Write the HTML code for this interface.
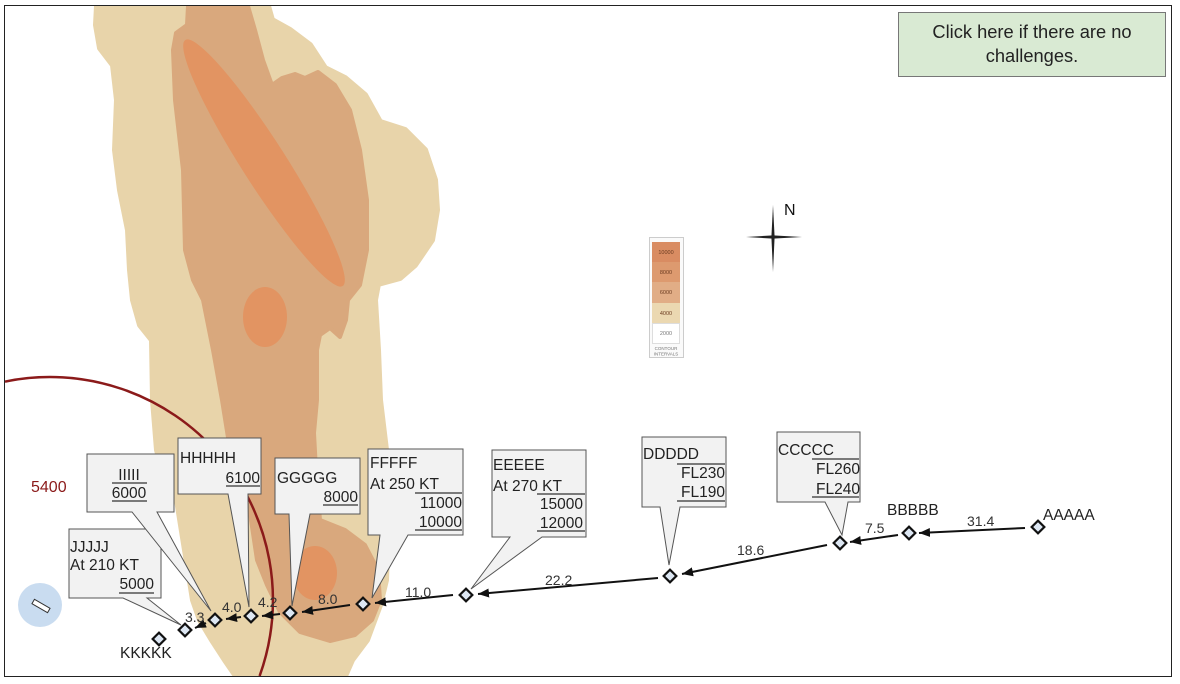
<!DOCTYPE html>
<html><head><meta charset="utf-8"><style>
html,body{margin:0;padding:0;background:#fff;width:1180px;height:684px;overflow:hidden;}
svg{display:block;}
text{font-family:"Liberation Sans",Arial,sans-serif;}
</style></head><body>
<svg width="1180" height="684" viewBox="0 0 1180 684" xmlns="http://www.w3.org/2000/svg">
<defs>
<clipPath id="fr"><rect x="5" y="6" width="1166" height="670"/></clipPath>
<marker id="ah" markerUnits="userSpaceOnUse" markerWidth="12" markerHeight="10" refX="11" refY="4.5" orient="auto"><path d="M0,0 L11,4.5 L0,9 Z" fill="#111"/></marker>
</defs>
<rect x="0" y="0" width="1180" height="684" fill="#fff"/>
<g clip-path="url(#fr)">
<polygon fill="#e8d4aa" stroke="#e8d4aa" stroke-width="6" stroke-linejoin="round" points="97,6 268,6 272,20 290,30 310,45 325,68 345,78 365,95 380,122 405,130 425,150 435,180 437,210 432,240 415,265 400,278 378,284 375,300 378,350 380,400 386,450 388,520 386,580 380,605 367,640 352,660 345,676 236,676 225,660 212,640 200,620 193,600 185,550 177,500 165,480 157,450 153,400 152,340 140,325 133,300 130,270 128,230 120,190 115,150 117,100 113,65 100,48 96,25"/>
<polygon fill="#d9a87d" stroke="#d9a87d" stroke-width="4" stroke-linejoin="round" points="188,6 248,6 255,30 263,60 272,85 282,78 295,74 305,78 318,72 335,85 350,110 360,150 367,200 367,250 360,285 348,300 346,320 340,337 330,328 320,335 317,350 317,400 314,433 316,470 320,520 345,530 365,545 378,570 380,600 372,620 355,635 330,641 300,632 280,612 267,585 257,560 248,500 238,475 230,450 222,400 213,350 203,300 193,280 185,250 183,170 175,100 173,50 176,33 187,25"/>
<ellipse cx="264" cy="163" rx="146" ry="22" transform="rotate(57.4 264 163)" fill="#e29462"/>
<ellipse cx="265" cy="317" rx="22" ry="30" fill="#e29462"/>
<ellipse cx="315" cy="573" rx="22" ry="27" fill="#e29462"/>
<path d="M5,381.6 A223,223 0 0 1 259.6,676" fill="none" stroke="#8b1a1a" stroke-width="2.5"/>
</g>
<rect x="4.5" y="5.5" width="1167" height="671" fill="none" stroke="#222" stroke-width="1"/>

<!-- button -->
<rect x="898.5" y="12.5" width="267" height="64" fill="#d9ead3" stroke="#777" stroke-width="1"/>
<text x="1032" y="38" font-size="18.3" text-anchor="middle" fill="#222">Click here if there are no</text>
<text x="1032" y="62" font-size="18.3" text-anchor="middle" fill="#222">challenges.</text>

<!-- legend -->
<rect x="649.5" y="237.5" width="34" height="120" fill="#fafafa" stroke="#ccc"/>
<rect x="652" y="242" width="28" height="20" fill="#d98c62"/>
<rect x="652" y="262" width="28" height="20" fill="#dd9a6f"/>
<rect x="652" y="282" width="28" height="21" fill="#e1ad86"/>
<rect x="652" y="303" width="28" height="20" fill="#ebd8b1"/>
<rect x="652.5" y="323.5" width="27" height="20" fill="#fff" stroke="#ddd"/>
<g font-size="5.5" text-anchor="middle" fill="#6b3b20">
<text x="666" y="254">10000</text><text x="666" y="274">8000</text><text x="666" y="294">6000</text><text x="666" y="315">4000</text><text x="666" y="335" fill="#777">2000</text>
</g>
<text x="666" y="350" font-size="4.5" text-anchor="middle" fill="#777">CONTOUR</text>
<text x="666" y="355.5" font-size="4.5" text-anchor="middle" fill="#777">INTERVALS</text>

<!-- compass -->
<polygon points="773,205 774.6,237 773,272 771.4,237" fill="#222"/>
<polygon points="746,237 773,238.6 802,237 773,235.4" fill="#222"/>
<text x="784" y="215" font-size="16" fill="#111">N</text>

<!-- 5400 -->
<text x="31" y="492" font-size="16" fill="#8b1a1a">5400</text>

<!-- blue circle -->
<circle cx="40" cy="605" r="22" fill="#c9dcf0"/>
<rect x="32" y="603.5" width="18" height="5" fill="#fff" stroke="#333" stroke-width="1" transform="rotate(30 41 606)"/>

<!-- callouts -->
<g fill="#f2f2f2" stroke="#555" stroke-width="1">
<path d="M69,529 H161 V598 H147 L181,625 L123,598 H69 Z"/>
<path d="M87,454 H174 V512 H157 L211,611 L132,512 H87 Z"/>
<path d="M178,438 H261 V494 H248 L249,607 L228,494 H178 Z"/>
<path d="M275,458 H360 V514 H310 L292,606 L289,514 H275 Z"/>
<path d="M368,449 H463 V535 H408 L372,598 L380,535 H368 Z"/>
<path d="M492,450 H586 V537 H542 L471,589 L510,537 H492 Z"/>
<path d="M642,437 H726 V507 H680 L669,565 L660,507 H642 Z"/>
<path d="M777,432 H860 V502 H848 L842,535 L825,502 H777 Z"/>
</g>
<g font-size="15.5" fill="#222">
<text x="70" y="552">JJJJJ</text><text x="70" y="570">At 210 KT</text><text x="154" y="589" text-anchor="end">5000</text>
<text x="129" y="480" text-anchor="middle">IIIII</text><text x="129" y="498" text-anchor="middle">6000</text>
<text x="180" y="463">HHHHH</text><text x="260" y="483" text-anchor="end">6100</text>
<text x="277" y="483">GGGGG</text><text x="358" y="502" text-anchor="end">8000</text>
<text x="370" y="468">FFFFF</text><text x="370" y="489">At 250 KT</text><text x="462" y="508" text-anchor="end">11000</text><text x="462" y="527" text-anchor="end">10000</text>
<text x="493" y="470">EEEEE</text><text x="493" y="491">At 270 KT</text><text x="583" y="509" text-anchor="end">15000</text><text x="583" y="528" text-anchor="end">12000</text>
<text x="643" y="459">DDDDD</text><text x="725" y="478" text-anchor="end">FL230</text><text x="725" y="497" text-anchor="end">FL190</text>
<text x="778" y="455">CCCCC</text><text x="860" y="474" text-anchor="end">FL260</text><text x="860" y="494" text-anchor="end">FL240</text>
</g>
<g stroke="#333" stroke-width="1.2">
<line x1="119" y1="593" x2="154" y2="593"/>
<line x1="112" y1="483" x2="147" y2="483"/><line x1="112" y1="501" x2="147" y2="501"/>
<line x1="226" y1="486" x2="260" y2="486"/>
<line x1="323" y1="505" x2="358" y2="505"/>
<line x1="415" y1="493" x2="462" y2="493"/><line x1="415" y1="530" x2="462" y2="530"/>
<line x1="537" y1="494" x2="585" y2="494"/><line x1="537" y1="531" x2="585" y2="531"/>
<line x1="677" y1="464" x2="725" y2="464"/><line x1="677" y1="501" x2="725" y2="501"/>
<line x1="812" y1="459" x2="859" y2="459"/><line x1="812" y1="497" x2="859" y2="497"/>
</g>

<!-- arrows -->
<g stroke="#111" stroke-width="2" marker-end="url(#ah)">
<line x1="1025" y1="528" x2="919" y2="533"/>
<line x1="898" y1="535" x2="850" y2="542"/>
<line x1="827" y1="545" x2="682" y2="574"/>
<line x1="658" y1="578" x2="478" y2="594"/>
<line x1="453" y1="595" x2="375" y2="603"/>
<line x1="350" y1="605" x2="302" y2="612"/>
<line x1="280" y1="614" x2="262" y2="616"/>
<line x1="241" y1="617" x2="226" y2="619"/>
<line x1="206" y1="623" x2="195" y2="628"/>
</g>

<!-- diamonds -->
<g fill="#dde7f3" stroke="#111" stroke-width="2.2">
<rect x="-4.5" y="-4.5" width="9" height="9" transform="translate(1038 527) rotate(45)"/>
<rect x="-4.5" y="-4.5" width="9" height="9" transform="translate(909 533) rotate(45)"/>
<rect x="-4.5" y="-4.5" width="9" height="9" transform="translate(840 543) rotate(45)"/>
<rect x="-4.5" y="-4.5" width="9" height="9" transform="translate(670 576) rotate(45)"/>
<rect x="-4.5" y="-4.5" width="9" height="9" transform="translate(466 595) rotate(45)"/>
<rect x="-4.5" y="-4.5" width="9" height="9" transform="translate(363 604) rotate(45)"/>
<rect x="-4.5" y="-4.5" width="9" height="9" transform="translate(290 613) rotate(45)"/>
<rect x="-4.5" y="-4.5" width="9" height="9" transform="translate(251 616) rotate(45)"/>
<rect x="-4.5" y="-4.5" width="9" height="9" transform="translate(215 620) rotate(45)"/>
<rect x="-4.5" y="-4.5" width="9" height="9" transform="translate(185 630) rotate(45)"/>
<rect x="-4.5" y="-4.5" width="9" height="9" transform="translate(159 639) rotate(45)"/>
</g>

<!-- labels -->
<g font-size="15.5" fill="#222">
<text x="1043" y="520">AAAAA</text>
<text x="887" y="515">BBBBB</text>
<text x="120" y="658">KKKKK</text>
</g>
<g font-size="14" fill="#333">
<text x="967" y="526">31.4</text>
<text x="865" y="533">7.5</text>
<text x="737" y="555">18.6</text>
<text x="545" y="585">22.2</text>
<text x="405" y="597">11.0</text>
<text x="318" y="604">8.0</text>
<text x="258" y="607">4.2</text>
<text x="222" y="612">4.0</text>
<text x="185" y="622">3.3</text>
</g>
</svg>
</body></html>
